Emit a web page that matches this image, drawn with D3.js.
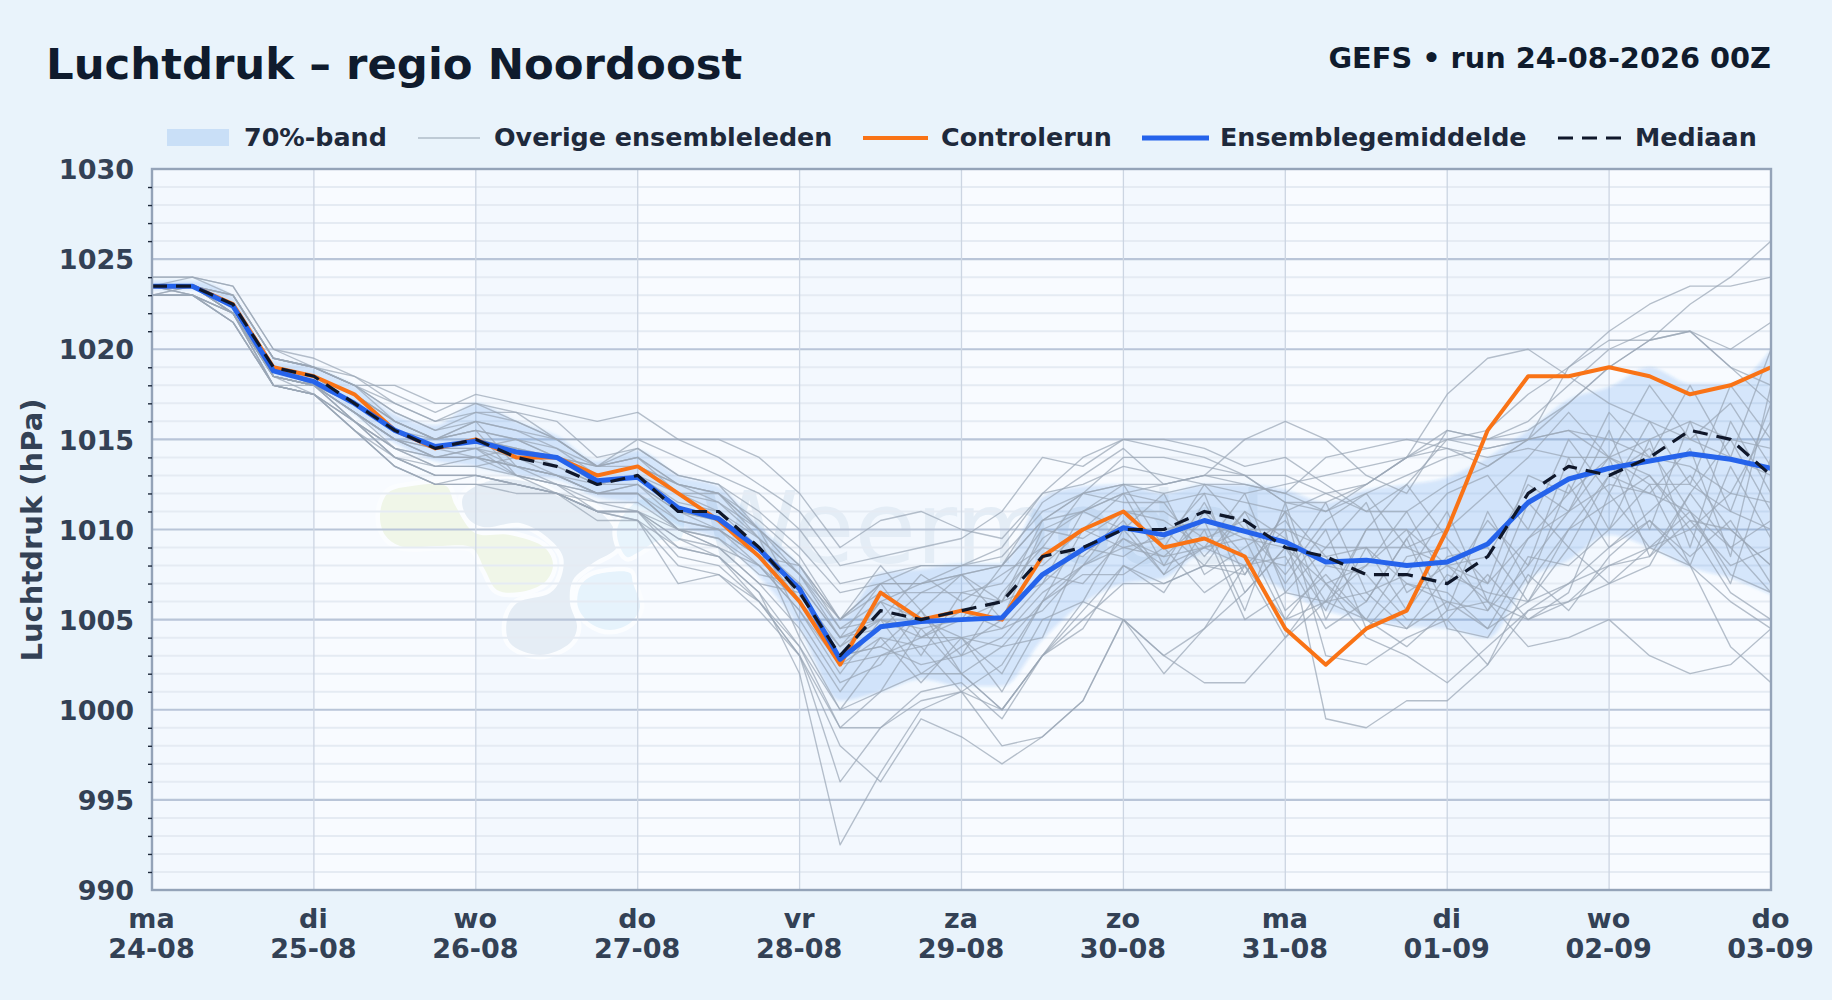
<!DOCTYPE html>
<html lang="nl">
<head>
<meta charset="utf-8">
<title>Luchtdruk - regio Noordoost</title>
<script src="https://cdn.jsdelivr.net/npm/d3@7"></script>
<style>
    html, body { margin: 0; padding: 0; background: #e9f3fb; }
    svg { display: block; }
    text { font-family: "DejaVu Sans", sans-serif; font-weight: 700; }
</style>
</head>
<body>
<div id="chart"></div>
<script>
// Luchtdruk pluim: GEFS ensemble for regio Noordoost

// Axis labels
var dayNames = ["ma", "di", "wo", "do", "vr", "za", "zo", "ma", "di", "wo", "do"];
var dayDates = ["24-08", "25-08", "26-08", "27-08", "28-08", "29-08", "30-08", "31-08", "01-09", "02-09", "03-09"];
var majorTicks = [990, 995, 1000, 1005, 1010, 1015, 1020, 1025, 1030];
var minorTicks = [991, 992, 993, 994, 996, 997, 998, 999, 1001, 1002, 1003, 1004, 1006, 1007, 1008, 1009,
    1011, 1012, 1013, 1014, 1016, 1017, 1018, 1019, 1021, 1022, 1023, 1024, 1026, 1027, 1028, 1029];

// One value every 6 hours, 41 steps
var hours = [0, 6, 12, 18, 24, 30, 36, 42, 48, 54, 60, 66, 72, 78, 84, 90, 96, 102, 108, 114, 120, 126, 132, 138,
    144, 150, 156, 162, 168, 174, 180, 186, 192, 198, 204, 210, 216, 222, 228, 234, 240];

var controlRun = [1023.5, 1023.5, 1022.5, 1019, 1018.5, 1017.5, 1015.5, 1014.5, 1015, 1014, 1014, 1013, 1013.5, 1012, 1010.5, 1008.5, 1006, 1002.5, 1006.5, 1005, 1005.5, 1005, 1008.5, 1010, 1011, 1009, 1009.5, 1008.5, 1004.5, 1002.5, 1004.5, 1005.5, 1010, 1015.5, 1018.5, 1018.5, 1019, 1018.5, 1017.5, 1018, 1019];
var ensembleMean = [1023.5, 1023.5, 1022.4, 1018.8, 1018.2, 1017, 1015.5, 1014.6, 1014.9, 1014.3, 1014, 1012.7, 1012.9, 1011.2, 1010.6, 1008.9, 1006.7, 1002.8, 1004.6, 1004.9, 1005, 1005.1, 1007.5, 1008.9, 1010.1, 1009.7, 1010.5, 1009.9, 1009.3, 1008.2, 1008.3, 1008, 1008.2, 1009.2, 1011.5, 1012.8, 1013.4, 1013.8, 1014.2, 1013.9, 1013.4];
var ensembleMedian = [1023.5, 1023.5, 1022.5, 1019, 1018.5, 1017, 1015.5, 1014.5, 1015, 1014, 1013.5, 1012.5, 1013, 1011, 1011, 1009, 1006.5, 1003, 1005.5, 1005, 1005.5, 1006, 1008.5, 1009, 1010, 1010, 1011, 1010.5, 1009, 1008.5, 1007.5, 1007.5, 1007, 1008.5, 1012, 1013.5, 1013, 1014, 1015.5, 1015, 1013];
var bandUpper = [1023.8, 1023.8, 1022.9, 1019.4, 1019, 1018, 1016.4, 1015.8, 1017, 1016, 1015.2, 1013.8, 1014.4, 1013, 1012.4, 1010.2, 1008, 1005, 1007.6, 1007.8, 1008.1, 1008.1, 1011.8, 1012.4, 1012.5, 1012, 1012.5, 1012.5, 1012.2, 1011.5, 1012.2, 1012.5, 1012.9, 1014, 1015.5, 1017.2, 1017.9, 1019, 1018.1, 1018.1, 1020];
var bandLower = [1023.3, 1023.3, 1022, 1018.6, 1018, 1016.4, 1014.8, 1013.8, 1013.5, 1013, 1012.8, 1011.8, 1011.4, 1010.2, 1009.4, 1007.4, 1004.5, 1000.5, 1001, 1001.7, 1001.3, 1001.3, 1003.9, 1005.9, 1007, 1007.3, 1008.7, 1007.9, 1006.6, 1005.5, 1005, 1004.6, 1004.5, 1004, 1007.2, 1008.3, 1009.7, 1009, 1007.9, 1007.3, 1006.4];

var memberRuns = [
    [1024, 1024, 1023.5, 1020, 1019.5, 1018.5, 1017.5, 1016.5, 1017.5, 1017, 1016.5, 1016, 1016.5, 1015, 1015, 1014, 1012, 1009, 1010.5, 1011, 1010, 1009.5, 1012, 1014, 1015, 1015, 1014.5, 1013.5, 1014, 1012.5, 1011, 1012.5, 1015, 1014.5, 1015, 1015.5, 1015, 1014, 1013.5, 1012, 1011.5],
    [1024, 1024, 1023.5, 1020, 1019, 1018, 1018, 1017, 1017, 1016, 1015, 1015, 1015, 1015, 1014, 1012.5, 1011, 1008, 1008.5, 1009, 1009.5, 1011, 1014, 1013.5, 1015, 1014.5, 1014, 1013, 1011.5, 1011, 1012.5, 1014, 1015.5, 1015, 1016, 1018, 1020, 1021, 1021, 1020, 1021.5],
    [1023.5, 1023.5, 1023, 1019.5, 1019, 1018.5, 1017, 1016, 1017, 1016.5, 1016, 1014, 1014.5, 1013, 1012.5, 1011, 1009, 1006.5, 1007, 1008, 1008, 1009, 1012, 1012.5, 1013.5, 1013, 1012.5, 1012.5, 1012, 1011, 1012, 1013, 1014, 1014.5, 1015, 1017, 1019, 1020.5, 1022.5, 1024, 1026],
    [1023, 1023.5, 1023, 1019.5, 1019, 1018, 1017, 1016, 1016.5, 1016.5, 1015, 1013.5, 1015, 1014, 1013, 1012, 1010, 1007, 1007.5, 1008, 1008, 1008.5, 1011, 1012, 1014, 1014, 1013.5, 1013, 1013, 1012, 1011, 1011, 1012.5, 1013.5, 1015, 1019, 1021, 1022.5, 1023.5, 1023.5, 1024],
    [1023.5, 1024, 1023, 1019.5, 1019, 1018, 1016.5, 1015.5, 1016.5, 1016, 1015, 1013.5, 1014, 1012.5, 1012, 1010.5, 1008.5, 1005, 1007, 1007, 1007.5, 1008, 1010.5, 1012, 1012.5, 1012, 1012.5, 1012, 1012.5, 1013, 1013.5, 1014, 1017.5, 1019.5, 1020, 1018.5, 1017, 1016, 1015, 1014, 1013],
    [1023.5, 1023.5, 1023, 1019.5, 1019, 1018, 1016, 1015, 1016, 1015.5, 1015, 1013.5, 1014.5, 1013, 1012.5, 1010, 1008, 1005, 1007, 1007, 1008, 1008, 1010.5, 1012, 1012.5, 1012.5, 1013, 1013, 1011.5, 1011.5, 1012.5, 1014, 1015, 1015.5, 1017.5, 1019, 1020.5, 1020.5, 1021, 1019, 1018],
    [1023.5, 1023.5, 1022.5, 1019, 1018.5, 1017.5, 1016, 1015, 1016, 1013.5, 1013, 1012, 1012.5, 1010.5, 1010, 1008.5, 1008, 1005, 1008, 1005.5, 1007.5, 1006, 1010.5, 1011, 1012.5, 1009, 1012.5, 1010, 1007.5, 1010.5, 1012, 1009, 1010, 1012, 1014, 1016.5, 1014, 1018, 1015, 1017, 1013.5],
    [1023.5, 1023.5, 1022.5, 1019, 1018.5, 1017.5, 1016, 1015, 1015.5, 1015, 1014, 1013.5, 1014, 1012, 1012, 1009.5, 1007.5, 1004.5, 1005, 1007.5, 1006, 1007.5, 1009, 1012, 1011.5, 1011.5, 1008.5, 1011, 1009.5, 1006, 1010, 1012.5, 1009.5, 1007, 1013, 1012, 1016.5, 1014, 1018, 1014, 1020],
    [1023.5, 1023.5, 1022.5, 1019, 1018.5, 1017, 1015.5, 1015, 1015.5, 1013, 1012.5, 1011.5, 1011.5, 1010, 1009.5, 1007.5, 1007, 1004, 1007, 1004, 1005, 1008, 1008, 1010, 1012, 1008, 1011.5, 1007.5, 1011, 1008.5, 1006, 1009.5, 1012, 1013, 1010, 1015, 1012, 1016, 1012.5, 1018, 1015],
    [1023.5, 1023.5, 1022.5, 1019, 1018, 1017, 1015.5, 1014.5, 1015, 1014.5, 1014, 1012.5, 1013, 1011.5, 1011, 1009, 1007, 1004, 1004.5, 1006.5, 1007.5, 1005, 1010, 1009.5, 1011, 1010.5, 1009, 1012, 1006.5, 1009, 1011.5, 1006.5, 1008, 1008.5, 1012.5, 1011, 1015.5, 1010, 1016, 1011, 1017],
    [1023.5, 1023.5, 1022.5, 1019, 1018.5, 1017, 1015.5, 1014.5, 1014.5, 1013, 1012, 1011, 1011, 1009.5, 1009, 1007, 1006.5, 1003.5, 1006, 1003, 1006.5, 1006, 1007, 1011, 1010, 1012, 1007.5, 1009, 1010.5, 1007, 1008, 1011, 1007, 1010.5, 1008, 1014, 1010, 1015, 1009, 1016, 1012],
    [1023.5, 1023.5, 1022, 1018.5, 1018, 1016.5, 1015, 1014.5, 1014.5, 1014, 1013, 1012.5, 1012.5, 1011, 1010.5, 1009, 1006, 1003, 1003.5, 1005.5, 1003, 1006.5, 1009, 1008.5, 1010.5, 1007.5, 1011, 1008.5, 1008, 1011.5, 1006.5, 1007.5, 1011, 1006, 1011.5, 1009, 1013, 1012, 1014.5, 1008.5, 1018],
    [1023.5, 1023.5, 1022, 1018.5, 1018, 1016.5, 1015, 1014, 1014.5, 1015, 1014.5, 1013, 1013.5, 1012.5, 1011.5, 1010, 1006, 1003, 1006, 1005, 1004, 1002, 1006, 1010, 1009, 1009.5, 1012, 1006.5, 1009, 1005.5, 1010, 1010, 1005.5, 1011, 1007, 1012.5, 1009, 1011, 1013, 1010, 1008],
    [1023, 1023.5, 1022, 1018.5, 1018, 1016.5, 1015, 1014, 1014, 1013.5, 1013, 1012, 1012, 1010, 1010, 1008, 1005.5, 1002.5, 1003, 1004, 1005.5, 1004.5, 1005.5, 1008, 1011, 1011, 1009.5, 1010.5, 1005.5, 1007.5, 1005, 1008.5, 1009, 1005.5, 1009.5, 1011, 1014, 1008.5, 1012, 1015, 1011],
    [1023.5, 1023, 1022, 1018.5, 1018, 1016, 1014.5, 1014, 1014, 1013, 1012.5, 1012, 1012, 1010, 1009.5, 1008, 1005.5, 1002, 1005, 1002, 1003.5, 1005, 1007.5, 1007, 1009.5, 1008.5, 1010.5, 1005.5, 1011.5, 1005, 1009, 1005.5, 1008.5, 1009, 1006, 1010, 1011.5, 1013, 1010, 1012, 1016],
    [1023, 1023, 1022, 1018.5, 1017.5, 1016, 1014.5, 1013.5, 1014, 1014.5, 1014, 1013, 1013.5, 1012, 1011.5, 1009.5, 1005, 1001.5, 1002.5, 1005.5, 1002, 1003.5, 1004, 1009, 1008.5, 1010, 1008, 1011, 1007, 1010, 1004.5, 1007, 1006.5, 1004.5, 1008.5, 1008, 1010, 1012.5, 1008, 1013.5, 1009.5],
    [1023, 1023, 1022, 1018, 1018, 1016, 1014.5, 1013.5, 1013.5, 1013, 1012.5, 1011, 1011, 1010, 1009, 1007, 1004.5, 1001, 1004, 1001.5, 1004, 1001, 1005, 1006, 1010, 1007.5, 1009, 1009.5, 1005, 1008, 1007.5, 1005, 1005, 1007.5, 1005, 1006.5, 1012, 1009, 1011, 1007, 1014],
    [1023.5, 1023.5, 1022, 1018.5, 1018, 1016, 1014, 1013.5, 1013.5, 1014, 1013.5, 1012.5, 1013, 1011, 1010.5, 1009, 1004, 1000, 1003, 1003.5, 1001, 1002.5, 1006, 1007.5, 1007.5, 1009, 1006.5, 1008, 1008.5, 1004.5, 1006, 1009.5, 1004.5, 1004, 1007.5, 1005.5, 1008.5, 1010.5, 1008.5, 1010.5, 1007],
    [1023.5, 1023, 1021.5, 1018, 1017.5, 1015.5, 1014, 1013, 1013, 1012.5, 1012, 1011, 1010.5, 1009, 1008.5, 1006.5, 1003.5, 1000, 1001, 1004.5, 1002, 1000, 1003, 1005.5, 1008, 1006.5, 1010, 1005, 1006.5, 1006, 1005, 1004.5, 1007.5, 1006.5, 1006, 1009, 1007, 1008, 1012, 1009, 1010.5],
    [1023, 1023, 1021.5, 1018, 1017.5, 1015.5, 1013.5, 1012.5, 1013, 1012.5, 1012, 1011, 1011, 1008.5, 1008, 1006, 1003.5, 999, 1001, 1002, 1002, 1000, 1003, 1005, 1007, 1007, 1008, 1008, 1005, 1006, 1006.5, 1004.5, 1006, 1004.5, 1006, 1007, 1008, 1008.5, 1010.5, 1008, 1009],
    [1023, 1023, 1021.5, 1018, 1017.5, 1015.5, 1013.5, 1012.5, 1012.5, 1012.5, 1012, 1011, 1010.5, 1008, 1007.5, 1005.5, 1003, 999, 999, 1000.5, 1001, 998, 998.5, 1000.5, 1005, 1003, 1004.5, 1008, 1004, 1007, 1005, 1003.5, 1005.5, 1006, 1005, 1006, 1008, 1009, 1010, 1006.5, 1005],
    [1023.5, 1023, 1021.5, 1018, 1017.5, 1015.5, 1013.5, 1012.5, 1012.5, 1012, 1012, 1010.5, 1010.5, 1007, 1007.5, 1006, 1003, 998, 996, 999.5, 998.5, 997, 998.5, 1000.5, 1005, 1002, 1004.5, 1006.5, 1009, 1007, 1004, 1003, 1001.5, 1003.5, 1005.5, 1007, 1009, 1010.5, 1008, 1006, 1004.5],
    [1023, 1023, 1022, 1018, 1017.5, 1016, 1014, 1013, 1013, 1012.5, 1012, 1011.5, 1011, 1009, 1008.5, 1006.5, 1002, 992.5, 996.5, 1000, 1001, 1000, 1003, 1004.5, 1008, 1007, 1008, 1007.5, 1011, 1003, 1002.5, 1004, 1005, 1002.5, 1007, 1010, 1013, 1014.5, 1011, 1007.5, 1006.5],
    [1023.5, 1023.5, 1022, 1018, 1017.5, 1016, 1014, 1013, 1013, 1012.5, 1012, 1011, 1011, 1009.5, 1008.5, 1006, 1003, 996, 999, 1001, 1001.5, 999.5, 1003, 1006, 1005, 1003, 1001.5, 1001.5, 1004, 1006, 1008, 1010, 1008, 1006, 1003.5, 1004, 1005, 1003, 1002, 1002.5, 1004.5],
    [1023.5, 1023.5, 1022.5, 1018.5, 1018, 1016.5, 1015, 1014, 1014, 1013.5, 1012.5, 1012, 1012, 1010, 1009, 1008, 1006, 1003, 1003.5, 1002.5, 1003, 1004, 1006.5, 1008, 1009.5, 1008, 1009, 1008, 1010, 999.5, 999, 1000.5, 1000.5, 1002.5, 1005.5, 1006, 1007, 1009, 1008, 1003.5, 1001.5],
    [1023.5, 1023.5, 1023, 1019.5, 1019, 1018, 1016.5, 1015.5, 1016, 1015.5, 1014.5, 1013.5, 1013.5, 1012.5, 1012, 1010, 1008, 1004.5, 1006, 1007, 1007.5, 1008, 1011.5, 1013, 1014.5, 1012.5, 1013, 1015, 1016, 1015, 1013, 1012, 1015.5, 1015, 1015.5, 1017, 1019, 1020.5, 1021, 1019, 1017],
    [1023.5, 1023.5, 1022.5, 1019, 1018.5, 1017.5, 1016, 1015, 1015.5, 1015, 1014, 1013.5, 1014, 1012.5, 1012, 1010, 1007.5, 1004, 1005, 1004.5, 1005, 1006, 1009.5, 1011, 1012, 1012.5, 1013, 1012.5, 1012, 1014, 1014.5, 1015, 1014.5, 1014, 1014.5, 1014, 1014, 1015, 1016, 1015, 1014.5],
    [1023.5, 1023.5, 1022.5, 1019, 1018, 1017, 1015.5, 1014.5, 1015, 1014.5, 1013.5, 1012.5, 1013, 1012, 1011, 1009.5, 1007.5, 1005, 1006.5, 1006.5, 1006.5, 1007, 1010, 1011, 1012, 1011.5, 1012, 1011.5, 1011, 1012, 1012.5, 1014, 1014.5, 1013.5, 1015, 1015.5, 1014, 1012.5, 1012.5, 1011, 1010],
    [1023.5, 1023.5, 1022, 1018.5, 1018, 1016.5, 1014.5, 1014, 1014.5, 1013.5, 1013, 1012, 1012, 1010.5, 1010, 1008.5, 1006, 1003.5, 1005, 1004, 1004, 1004.5, 1007, 1009, 1010, 1010, 1010.5, 1009.5, 1009, 1008.5, 1009, 1009, 1008, 1007, 1009.5, 1012, 1014, 1013, 1010.5, 1010, 1008],
    [1023.5, 1023.5, 1022.5, 1018.5, 1018, 1016.5, 1015, 1014.5, 1014, 1013.5, 1013, 1012, 1012.5, 1011, 1010, 1008.5, 1006, 1002.5, 1004, 1003.5, 1004, 1003.5, 1006, 1008, 1009, 1008.5, 1009, 1010, 1010, 1009, 1009, 1007, 1006, 1005.5, 1008, 1011, 1012.5, 1012, 1011, 1009, 1006.5]
];

// Legend entries, drawn left to right
var legendItems = [
    { label: "70%-band", kind: "band", x0: 167, x1: 229, textX: 244 },
    { label: "Overige ensembleleden", kind: "member", x0: 418, x1: 480, textX: 494 },
    { label: "Controlerun", kind: "control", x0: 863, x1: 928, textX: 941 },
    { label: "Ensemblegemiddelde", kind: "mean", x0: 1142, x1: 1209, textX: 1220 },
    { label: "Mediaan", kind: "median", x0: 1558, x1: 1621, textX: 1635 }
];

var lineStyles = {
    member: { stroke: "#9aa6b6", width: 1.35, opacity: 0.72, dash: null },
    control: { stroke: "#f97316", width: 4, opacity: 1, dash: null },
    mean: { stroke: "#2563eb", width: 5, opacity: 1, dash: null },
    median: { stroke: "#0f172a", width: 3.2, opacity: 1, dash: "15,9" }
};

// Logo shapes of the faint watermark, page pixels
var logoShapes = [
    { color: "#f0f6e8", points: [[380, 515], [388, 493], [412, 486], [446, 486], [455, 505], [475, 533], [510, 535], [545, 548], [553, 565], [545, 582], [520, 592], [497, 590], [485, 570], [472, 548], [440, 546], [400, 546], [385, 535]] },
    { color: "#e5edf5", points: [[463, 497], [467, 517], [483, 527], [520, 523], [547, 537], [563, 557], [560, 580], [550, 593], [517, 603], [507, 620], [510, 643], [540, 655], [570, 643], [577, 627], [570, 603], [573, 580], [593, 563], [617, 547], [613, 527], [593, 507], [560, 497], [533, 483], [493, 480]] },
    { color: "#e6f3fc", points: [[580, 587], [578, 607], [590, 623], [610, 630], [630, 623], [640, 607], [633, 583], [630, 573], [610, 572], [590, 577]] },
    { color: "#e8f4fc", points: [[617, 530], [627, 557], [637, 553], [660, 540], [680, 540], [680, 505], [640, 500]] }
];

drawChart();

function drawChart() {
    var width = 1832;
    var height = 1000;
    var margin = { top: 169, right: 61, bottom: 110, left: 152 };
    var plotW = width - margin.left - margin.right;
    var plotH = height - margin.top - margin.bottom;

    var svg = d3.select("#chart")
        .append("svg")
        .attr("width", width)
        .attr("height", height)
        .attr("viewBox", "0 0 " + width + " " + height);

    var defs = svg.append("defs");

    defs.append("clipPath")
        .attr("id", "plot-clip")
        .append("rect")
        .attr("width", plotW)
        .attr("height", plotH);

    defs.append("filter")
        .attr("id", "soft")
        .append("feGaussianBlur")
        .attr("stdDeviation", 1.6);

    var x = d3.scaleLinear().domain([0, 240]).range([0, plotW]);
    var y = d3.scaleLinear().domain([990, 1030]).range([plotH, 0]);

    var plot = svg.append("g")
        .attr("transform", "translate(" + margin.left + "," + margin.top + ")");

    // Alternating day shading
    plot.selectAll(".dayBand")
        .data(dayDates.slice(0, -1))
        .enter()
        .append("rect")
        .attr("class", "dayBand")
        .attr("x", function(d, i) { return x(i * 24); })
        .attr("y", 0)
        .attr("width", x(24) - x(0))
        .attr("height", plotH)
        .attr("fill", function(d, i) { return i % 2 === 0 ? "#f3f8fe" : "#f8fbff"; });

    drawWatermark(plot);

    // Minor and major gridlines
    plot.append("g")
        .selectAll("line")
        .data(minorTicks)
        .enter()
        .append("line")
        .attr("x1", 0)
        .attr("x2", plotW)
        .attr("y1", function(d) { return y(d); })
        .attr("y2", function(d) { return y(d); })
        .attr("stroke", "#e5ebf3")
        .attr("stroke-width", 2);

    plot.append("g")
        .selectAll("line")
        .data(majorTicks)
        .enter()
        .append("line")
        .attr("x1", 0)
        .attr("x2", plotW)
        .attr("y1", function(d) { return y(d); })
        .attr("y2", function(d) { return y(d); })
        .attr("stroke", "#b9c5d8")
        .attr("stroke-width", 2.2);

    plot.append("g")
        .selectAll("line")
        .data(dayDates)
        .enter()
        .append("line")
        .attr("x1", function(d, i) { return x(i * 24); })
        .attr("x2", function(d, i) { return x(i * 24); })
        .attr("y1", 0)
        .attr("y2", plotH)
        .attr("stroke", "#ccd5e2")
        .attr("stroke-width", 1.3);

    var series = plot.append("g").attr("clip-path", "url(#plot-clip)");

    // 70% band
    var band = d3.area()
        .x(function(d, i) { return x(hours[i]); })
        .y0(function(d, i) { return y(bandLower[i]); })
        .y1(function(d, i) { return y(bandUpper[i]); })
        .curve(d3.curveMonotoneX);

    series.append("path")
        .datum(hours)
        .attr("d", band)
        .attr("fill", "#2f7ae5")
        .attr("fill-opacity", 0.17)
        .attr("filter", "url(#soft)");

    var line = d3.line()
        .x(function(d, i) { return x(hours[i]); })
        .y(function(d) { return y(d); });

    series.selectAll(".member")
        .data(memberRuns)
        .enter()
        .append("path")
        .attr("class", "member")
        .attr("d", line)
        .call(applyLineStyle, lineStyles.member);

    series.append("path").datum(controlRun).attr("d", line).call(applyLineStyle, lineStyles.control);
    series.append("path").datum(ensembleMean).attr("d", line).call(applyLineStyle, lineStyles.mean);
    series.append("path").datum(ensembleMedian).attr("d", line).call(applyLineStyle, lineStyles.median);

    // Plot frame
    plot.append("rect")
        .attr("width", plotW)
        .attr("height", plotH)
        .attr("fill", "none")
        .attr("stroke", "#94a3b8")
        .attr("stroke-width", 2.4);

    // Y axis
    var yAxis = plot.append("g")
        .call(d3.axisLeft(y).tickValues(majorTicks).tickSize(0).tickPadding(18).tickFormat(d3.format("d")));
    yAxis.select(".domain").remove();
    yAxis.selectAll("text")
        .attr("font-size", 27)
        .attr("fill", "#334155")
        .attr("dy", "0.36em");

    var yMinor = plot.append("g")
        .call(d3.axisLeft(y).tickValues(minorTicks).tickSize(4).tickFormat(""));
    yMinor.select(".domain").remove();
    yMinor.selectAll("line").attr("stroke", "#1e293b").attr("stroke-width", 1.4);

    // X axis with day name and date on two lines
    var xAxis = plot.append("g")
        .attr("transform", "translate(0," + plotH + ")")
        .call(d3.axisBottom(x).tickValues(hours.filter(function(h) { return h % 24 === 0; })).tickSize(0).tickFormat(""));
    xAxis.select(".domain").remove();
    xAxis.selectAll(".tick text")
        .attr("font-size", 27)
        .attr("fill", "#334155")
        .attr("dy", 0)
        .each(function(d, i) {
            var label = d3.select(this);
            label.append("tspan").attr("x", -1).attr("y", 38).text(dayNames[i]);
            label.append("tspan").attr("x", -1).attr("y", 68).text(dayDates[i]);
        });

    // Y axis title
    svg.append("text")
        .attr("transform", "translate(42," + 530 + ") rotate(-90)")
        .attr("text-anchor", "middle")
        .attr("font-size", 29)
        .attr("fill", "#334155")
        .text("Luchtdruk (hPa)");

    // Titles
    svg.append("text")
        .attr("x", 46)
        .attr("y", 79)
        .attr("font-size", 43.4)
        .attr("fill", "#0f1b2d")
        .text("Luchtdruk – regio Noordoost");

    svg.append("text")
        .attr("x", margin.left + plotW)
        .attr("y", 68)
        .attr("text-anchor", "end")
        .attr("font-size", 28.8)
        .attr("fill", "#0f1b2d")
        .text("GEFS • run 24-08-2026 00Z");

    drawLegend(svg);
}

function applyLineStyle(selection, style) {
    selection
        .attr("fill", "none")
        .attr("stroke", style.stroke)
        .attr("stroke-width", style.width)
        .attr("stroke-opacity", style.opacity)
        .attr("stroke-linejoin", "round")
        .attr("stroke-dasharray", style.dash);
}

function drawLegend(svg) {
    var legendY = 138;
    var legend = svg.append("g");

    legendItems.forEach(function(item) {
        if (item.kind === "band") {
            legend.append("rect")
                .attr("x", item.x0)
                .attr("y", legendY - 9)
                .attr("width", item.x1 - item.x0)
                .attr("height", 17)
                .attr("fill", "#2f7ae5")
                .attr("fill-opacity", 0.17);
        } else {
            legend.append("line")
                .attr("x1", item.x0)
                .attr("x2", item.x1)
                .attr("y1", legendY)
                .attr("y2", legendY)
                .call(applyLineStyle, lineStyles[item.kind]);
        }

        legend.append("text")
            .attr("x", item.textX)
            .attr("y", legendY + 8)
            .attr("font-size", 25.4)
            .attr("fill", "#1e293b")
            .text(item.label);
    });
}

// Faint site logo and name behind the data
function drawWatermark(plot) {
    var mark = plot.append("g").attr("transform", "translate(-152,-169)");
    var shape = d3.line().curve(d3.curveCatmullRomClosed.alpha(0.5));

    mark.selectAll(".logoShape")
        .data(logoShapes)
        .enter()
        .append("path")
        .attr("class", "logoShape")
        .attr("d", function(d) { return shape(d.points); })
        .attr("fill", function(d) { return d.color; })
        .attr("stroke", "#fbfdff")
        .attr("stroke-width", 9)
        .attr("paint-order", "stroke");

    mark.append("text")
        .attr("x", 700)
        .attr("y", 563)
        .attr("font-size", 100)
        .attr("fill", "#e4edf6")
        .style("font-weight", 400)
        .text("Weermodel");
}
</script>
</body>
</html>
